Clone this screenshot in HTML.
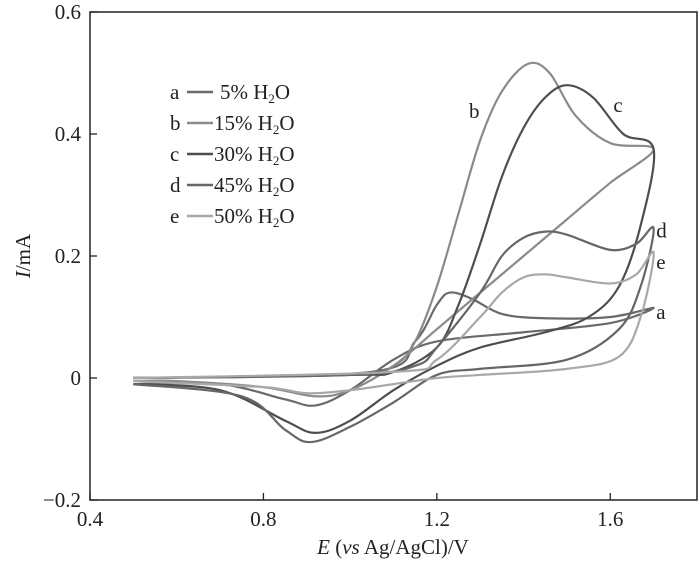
<!DOCTYPE html>
<html><head><meta charset="utf-8"><style>
body{margin:0;background:#fff}
svg text{font-family:"Liberation Serif",serif;fill:#222}
</style></head><body>
<svg width="700" height="565" xmlns="http://www.w3.org/2000/svg">
<g id="plot"></g>
</svg>
<script>
const xTicks=[0.4,0.8,1.2,1.6];
const yTicks=[-0.2,0,0.2,0.4,0.6];
const yTickLabels=["\u22120.2","0","0.2","0.4","0.6"];
const seriesNames=["a","b","c","d","e"];
const legendLabels=["5%","15%","30%","45%","50%"];
const seriesColors=["#6a6a6a","#8a8a8a","#4e4e4e","#666666","#a8a8a8"];
const aE=[0.5,1.05,1.15,1.2,1.23,1.28,1.35,1.45,1.6,1.7,1.6,1.4,1.2,1.1,1.0,0.92,0.85,0.7,0.5];
const aI=[0,0.01,0.06,0.12,0.14,0.13,0.105,0.098,0.1,0.115,0.09,0.075,0.06,0.03,-0.02,-0.045,-0.035,-0.01,-0.01];
const bE=[0.5,1.0,1.1,1.15,1.2,1.25,1.3,1.35,1.41,1.46,1.52,1.6,1.7,1.6,1.5,1.4,1.3,1.2,1.1,1.0,0.92,0.8,0.6,0.5];
const bI=[0,0.005,0.02,0.06,0.15,0.27,0.39,0.47,0.515,0.5,0.43,0.385,0.375,0.32,0.26,0.2,0.14,0.08,0.02,-0.02,-0.03,-0.015,-0.005,-0.005];
const cE=[0.5,1.0,1.1,1.2,1.25,1.3,1.35,1.4,1.45,1.5,1.56,1.63,1.7,1.67,1.62,1.55,1.45,1.3,1.2,1.1,1.0,0.92,0.85,0.7,0.5];
const cI=[0,0.005,0.01,0.05,0.12,0.22,0.33,0.41,0.46,0.48,0.46,0.4,0.375,0.25,0.15,0.1,0.075,0.05,0.02,-0.02,-0.07,-0.09,-0.07,-0.02,-0.01];
const dE=[0.5,1.0,1.15,1.2,1.3,1.35,1.4,1.45,1.5,1.6,1.66,1.7,1.67,1.62,1.5,1.3,1.2,1.1,1.0,0.91,0.85,0.75,0.5];
const dI=[0,0.005,0.02,0.05,0.14,0.2,0.23,0.24,0.235,0.21,0.22,0.245,0.15,0.08,0.03,0.015,0.005,-0.04,-0.08,-0.105,-0.085,-0.03,-0.01];
const eE=[0.5,1.1,1.2,1.3,1.35,1.4,1.45,1.5,1.6,1.66,1.7,1.67,1.62,1.5,1.3,1.2,1.1,1.0,0.9,0.8,0.5];
const eI=[0,0.01,0.03,0.1,0.14,0.165,0.17,0.165,0.155,0.17,0.205,0.1,0.035,0.015,0.005,0,-0.01,-0.02,-0.025,-0.015,-0.005];
const allE=[aE,bE,cE,dE,eE], allI=[aI,bI,cI,dI,eI];
const labelPos=[[1.706,0.097],[1.274,0.426],[1.607,0.436],[1.706,0.23],[1.706,0.179]];

const L=90,R=697,T=12,B=500,xMin=0.4,xMax=1.8,yMin=-0.2,yMax=0.6;
const X=v=>L+(v-xMin)/(xMax-xMin)*(R-L);
const Y=v=>B-(v-yMin)/(yMax-yMin)*(B-T);
const NS="http://www.w3.org/2000/svg";
const g=document.getElementById('plot');
function mk(t,a,p){const e=document.createElementNS(NS,t);for(const k in a)e.setAttribute(k,a[k]);(p||g).appendChild(e);return e;}
const frame=mk('rect',{x:L,y:T,width:R-L,height:B-T,fill:'none',stroke:'#222','stroke-width':1.5});


xTicks.forEach(v=>{
  const t=mk('line',{x1:X(v),x2:X(v),y1:B,y2:B-7,stroke:'#222','stroke-width':1.3});
  
  
  const l=mk('text',{x:X(v),y:B+26,'text-anchor':'middle','font-size':21});
  l.textContent=v.toFixed(1);
  
  
});
yTicks.forEach((v,i)=>{
  const t=mk('line',{x1:L,x2:L+7,y1:Y(v),y2:Y(v),stroke:'#222','stroke-width':1.3});
  
  
  const l=mk('text',{x:L-9,y:Y(v)+7,'text-anchor':'end','font-size':21});
  l.textContent=yTickLabels[i];
  
  
});
function smooth(pts){
  let d='M'+pts[0][0]+','+pts[0][1];
  for(let i=0;i<pts.length-1;i++){
    const p0=pts[Math.max(i-1,0)],p1=pts[i],p2=pts[i+1],p3=pts[Math.min(i+2,pts.length-1)];
    const c1=[p1[0]+(p2[0]-p0[0])/6,p1[1]+(p2[1]-p0[1])/6];
    const c2=[p2[0]-(p3[0]-p1[0])/6,p2[1]-(p3[1]-p1[1])/6];
    d+=' C'+c1[0]+','+c1[1]+' '+c2[0]+','+c2[1]+' '+p2[0]+','+p2[1];
  }
  return d;
}
allE.forEach((es,k)=>{
  const pts=es.map((e,i)=>[X(e),Y(allI[k][i])]);
  const p=mk('path',{d:smooth(pts),fill:'none',stroke:seriesColors[k],'stroke-width':2.2,'stroke-linejoin':'round'});
  
  
  const t=mk('text',{x:X(labelPos[k][0]),y:Y(labelPos[k][1]),'font-size':21});
  t.textContent=seriesNames[k];
  
  
});
legendLabels.forEach((lab,k)=>{
  const y=99+k*31;
  const n=mk('text',{x:170,y:y,'font-size':21});
  n.textContent=seriesNames[k];
  
  
  const ln=mk('line',{x1:187,x2:213,y1:y-7,y2:y-7,stroke:seriesColors[k],'stroke-width':2.4});
  
  
  const t=mk('text',{x:k==0?220:214,y:y,'font-size':21});
  t.innerHTML=lab+' H<tspan font-size="13" dy="4">2</tspan><tspan dy="-4">O</tspan>';
  
  
});
const xl=mk('text',{x:393,y:554,'text-anchor':'middle','font-size':21});
xl.innerHTML='<tspan font-style="italic">E</tspan> (<tspan font-style="italic">vs</tspan> Ag/AgCl)/V';


const yl=mk('text',{x:0,y:0,'text-anchor':'middle','font-size':21,transform:'translate(30,256) rotate(-90)'});
yl.innerHTML='<tspan font-style="italic">I</tspan>/mA';


</script>
</body></html>
